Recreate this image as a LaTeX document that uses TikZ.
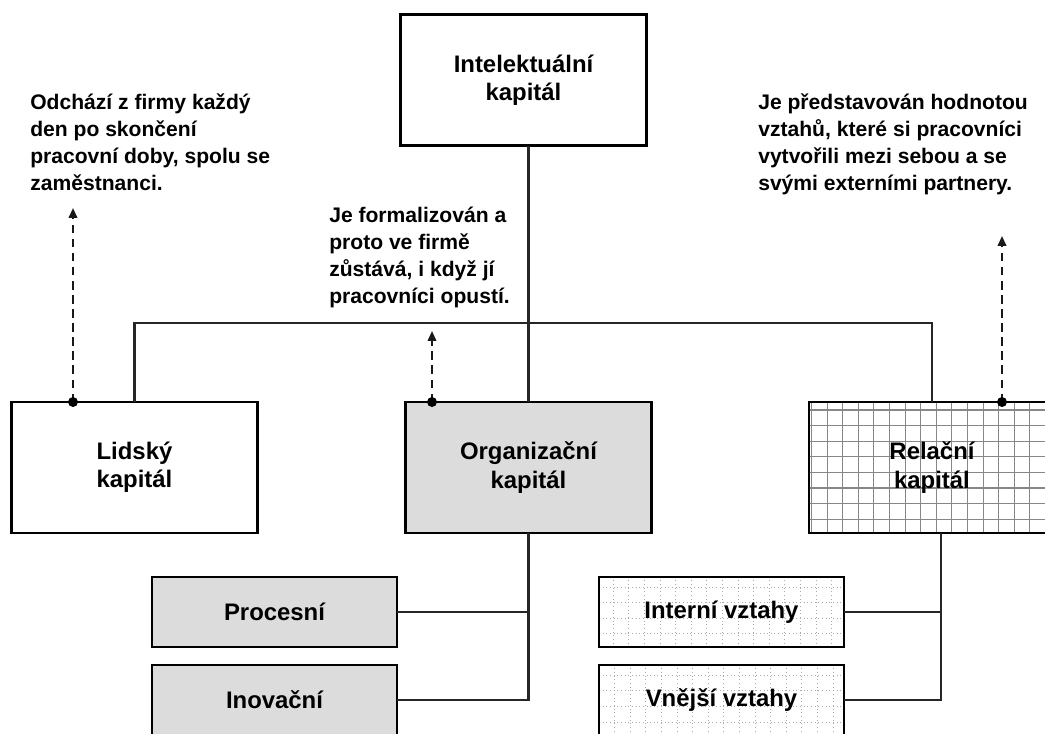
\documentclass[tikz,border=0pt]{standalone}
\usepackage{fontspec}
\setmainfont{Liberation Sans}
\usetikzlibrary{arrows.meta,positioning}
\definecolor{orgfill}{RGB}{220,220,220}
\definecolor{gridgray}{RGB}{135,135,135}

\begin{document}
\begin{tikzpicture}[x=0.025cm, y=-0.025cm,
  capbox/.style={rectangle, draw=black, line width=2pt, outer sep=0pt,
    minimum width=6.15cm, minimum height=3.275cm,
    font=\fontsize{17}{20}\selectfont\bfseries, align=center},
  subbox/.style={capbox, minimum width=6.125cm, minimum height=1.75cm},
  gridded/.style={path picture={\draw[gridgray, line width=0.8pt]
    (path picture bounding box.south west) grid[step=0.39cm]
    (path picture bounding box.north east);}},
  dotgridded/.style={path picture={\draw[gridgray!70, line width=0.6pt, dotted]
    (path picture bounding box.south west) grid[step=0.39cm]
    (path picture bounding box.north east);}},
  annot/.style={anchor=north west, inner sep=0pt, align=left,
    font=\fontsize{15}{19.2}\selectfont\bfseries},
  link/.style={line width=1.6pt, color=black!85},
  hint/.style={-{Triangle[length=7pt,width=6pt]}, dash pattern=on 6pt off 4pt,
    line width=1.4pt, color=black!90}
]
\useasboundingbox (0,0) rectangle (1045,733);
\clip (0,0) rectangle (1045,733);
% hlavni uzly
\node[capbox] (intel) at (523.5,80) {Intelektuální\\kapitál};
\node[capbox] (lidsky) at (134.5,467.5) {Lidský\\kapitál};
\node[capbox, fill=orgfill] (organ) at (528.5,467.5) {Organizační\\kapitál};
\node[capbox, gridded] (relacni) at (932,467.5) {Relační\\kapitál};
% podrizene uzly
\node[subbox, fill=orgfill] (procesni) at (274.5,612) {Procesní};
\node[subbox, fill=orgfill] (inovacni) at (274.5,700) {Inovační};
\node[subbox, dotgridded] (interni) at (721.5,612) {Interní vztahy};
\node[subbox, dotgridded] (vnejsi) at (721.5,700) {Vnější vztahy};
% poznamky
\node[annot] (pozn1) at (30,93) {Odchází z firmy každý\\den po skončení\\pracovní doby, spolu se\\zaměstnanci.};
\node[annot] (pozn2) at (329,207) {Je formalizován a\\proto ve firmě\\zůstává, i když jí\\pracovníci opustí.};
\node[annot] (pozn3) at (758,93) {Je představován hodnotou\\vztahů, které si pracovníci\\vytvořili mezi sebou a se\\svými externími partnery.};
% spojnice
\coordinate (bus) at (528.5,323);
\coordinate (rtap) at (941,533);
\draw[link] (organ.north |- intel.south) -- (organ.north);
\draw[link] (lidsky.north) |- (bus) -| (relacni.north);
\draw[link] (organ.south) |- (inovacni.east);
\draw[link] (procesni.east) -- (procesni.east -| organ.south);
\draw[link] (rtap) |- (vnejsi.east);
\draw[link] (interni.east) -- (interni.east -| rtap);
% carkovane sipky
\coordinate (d1) at (73,402);   \coordinate (t1) at (73,208);
\coordinate (d2) at (432,402);  \coordinate (t2) at (432,331);
\coordinate (d3) at (1002,402); \coordinate (t3) at (1002,236);
\foreach \d/\t in {d1/t1,d2/t2,d3/t3}
  {\draw[hint] (\d) -- (\t);
   \fill (\d) circle (0.125cm);}
\end{tikzpicture}
\end{document}
